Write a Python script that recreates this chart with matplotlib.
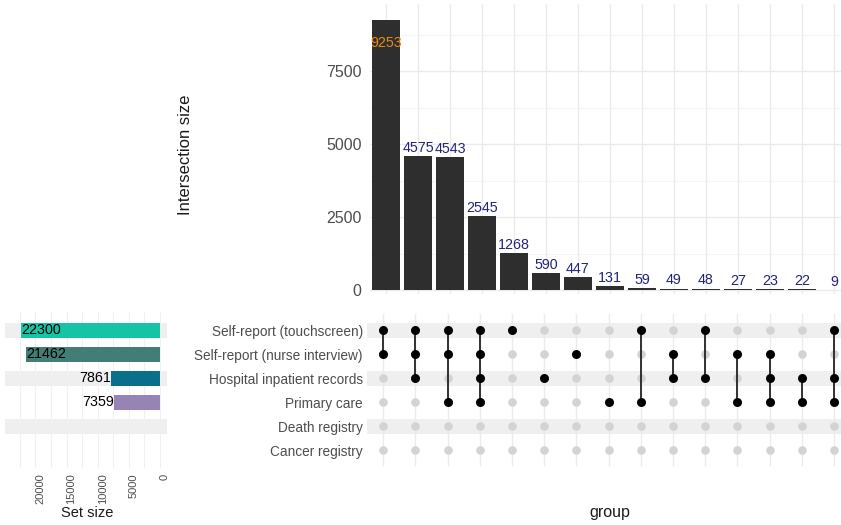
import matplotlib.pyplot as plt
from matplotlib.patches import Rectangle

plt.rcParams['font.family'] = ['Liberation Sans', 'DejaVu Sans']

# sets, top to bottom in the matrix
sets = ['Self-report (touchscreen)', 'Self-report (nurse interview)',
        'Hospital inpatient records', 'Primary care', 'Death registry',
        'Cancer registry']
set_sizes = [22300, 21462, 7861, 7359, 0, 0]
set_colors = ['#14c4a4', '#427d76', '#0a6f8a', '#9684b6', '#cccccc', '#cccccc']

# intersections (indices into sets) and their sizes
members = [[0, 1], [0, 1, 2], [0, 1, 3], [0, 1, 2, 3], [0], [2], [1], [3],
           [0, 3], [1, 2], [0, 2], [1, 3], [1, 2, 3], [2, 3], [0, 2, 3]]
inter_sizes = [9253, 4575, 4543, 2545, 1268, 590, 447, 131, 59, 49, 48, 27, 23, 22, 9]

W, H = 841, 525
fig = plt.figure(figsize=(W / 100, H / 100), dpi=100)

def box(x0, y0, x1, y1):
    return [x0 / W, 1 - y1 / H, (x1 - x0) / W, (y1 - y0) / H]

grid_c = '#ebebeb'
txt_c = '#4d4d4d'
n = len(inter_sizes)
xs = list(range(n))
nrow = len(sets)
rows_y = [nrow - 1 - i for i in range(nrow)]
xlim = (-0.5, 14.22)

# ---- intersection size bars ----
ax = fig.add_axes(box(370, 4, 841, 294))
ax.bar(xs, inter_sizes, width=0.88, color='#2e2e2e', zorder=2)
for i, v in enumerate(inter_sizes):
    if i == 0:
        ax.text(i, v - 550, str(v), ha='center', va='top', color='#e8891a', fontsize=10.3, zorder=3)
    else:
        ax.text(i, v + 40, str(v), ha='center', va='bottom', color='#23237a', fontsize=10.3, zorder=3)
ax.set_xlim(*xlim)
ax.set_ylim(-137, 9795)
ax.set_yticks([0, 2500, 5000, 7500])
ax.set_yticks([1250, 3750, 6250, 8750], minor=True)
ax.set_xticks(xs)
ax.set_xticklabels([])
ax.grid(True, which='major', color=grid_c, lw=1.0, zorder=0)
ax.grid(True, which='minor', axis='y', color='#f3f3f3', lw=0.6, zorder=0)
ax.tick_params(length=0, labelsize=11.5, labelcolor=txt_c, pad=6)
ax.tick_params(which='minor', length=0)
for s in ax.spines.values():
    s.set_visible(False)
ax.set_axisbelow(True)
fig.text(185 / W, 1 - 155 / H, 'Intersection size', rotation=90, ha='center', va='center',
         fontsize=12, color='#1a1a1a')

# ---- matrix ----
ax = fig.add_axes(box(367, 312, 841, 468))
ax.set_xlim(*xlim)
ax.set_ylim(-0.73, 5.77)
for r in range(0, nrow, 2):
    ax.add_patch(Rectangle((xlim[0], rows_y[r] - 0.3), xlim[1] - xlim[0], 0.6,
                           color='#efefef', lw=0, zorder=0))
for x in xs:
    ax.plot([x, x], [-0.62, 5.67], color=grid_c, lw=1.0, zorder=0.5)
for i, m in enumerate(members):
    ax.scatter([i] * nrow, rows_y, s=38, color='#d3d3d3', lw=0, zorder=2)
    ys = [rows_y[r] for r in m]
    if len(ys) > 1:
        ax.plot([i, i], [min(ys), max(ys)], color='#222222', lw=1.3, zorder=3)
    ax.scatter([i] * len(ys), ys, s=42, color='black', lw=0, zorder=4)
ax.set_yticks(rows_y)
ax.set_yticklabels(sets)
ax.set_xticks([])
ax.tick_params(length=0, labelsize=9.8, labelcolor=txt_c, pad=3)
for s in ax.spines.values():
    s.set_visible(False)
fig.text(610 / W, 1 - 513 / H, 'group', ha='center', va='center', fontsize=11.5, color='#1a1a1a')

# ---- set size bars ----
ax = fig.add_axes(box(5, 312, 167, 468))
ax.set_xlim(24880, -1120)
ax.set_ylim(-0.73, 5.77)
for r in range(0, nrow, 2):
    ax.add_patch(Rectangle((24880, rows_y[r] - 0.3), -26000, 0.6,
                           color='#efefef', lw=0, zorder=0))
ax.barh(rows_y, set_sizes, height=0.62, color=set_colors, zorder=2)
for r, v in enumerate(set_sizes):
    if v == 0:
        continue
    if v > 15000:
        ax.text(v, rows_y[r], str(v), ha='left', va='center', fontsize=10.3, color='black', zorder=3)
    else:
        ax.text(v, rows_y[r], str(v), ha='right', va='center', fontsize=10.3, color='black', zorder=3)
ax.set_xticks([0, 5000, 10000, 15000, 20000])
ax.set_xticks([2500, 7500, 12500, 17500, 22500], minor=True)
ax.set_yticks([])
ax.grid(True, which='both', axis='x', color='#f0f0f0', lw=0.8, zorder=0)
ax.set_axisbelow(True)
ax.tick_params(length=0, labelsize=8, labelcolor=txt_c, pad=4)
ax.tick_params(which='minor', length=0)
plt.setp(ax.get_xticklabels(), rotation=90, ha='left', va='top')
for s in ax.spines.values():
    s.set_visible(False)
fig.text(87 / W, 1 - 513 / H, 'Set size', ha='center', va='center', fontsize=10.5, color='#1a1a1a')

fig.savefig('out.png', dpi=100)
